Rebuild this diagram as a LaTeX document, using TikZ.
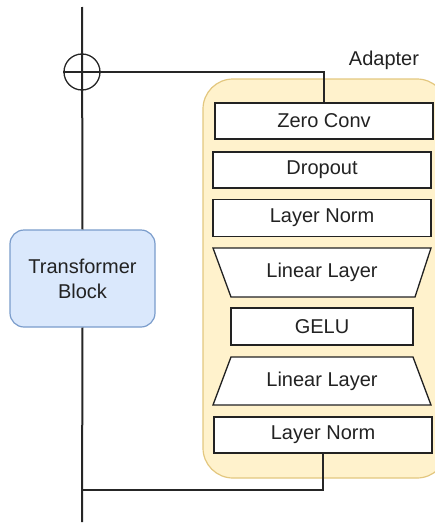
\documentclass[tikz,border=0pt]{standalone}
\usepackage{fontspec}
\setmainfont{Liberation Sans}
\usetikzlibrary{calc}
\definecolor{txt}{HTML}{222222}
\definecolor{adfill}{HTML}{FFF2CC}
\definecolor{addraw}{HTML}{E3C77F}
\definecolor{tbfill}{HTML}{DAE8FC}
\definecolor{tbdraw}{HTML}{7A9CCB}
\tikzset{
  lay/.style={draw=txt, fill=white, line width=1.3pt, minimum width=218pt, minimum height=36pt, inner sep=0pt, font=\fontsize{20}{24}\selectfont, text=txt},
  trap/.style={draw=txt, fill=white, line width=1.3pt},
  lbl/.style={inner sep=0pt, font=\fontsize{20}{24}\selectfont, text=txt},
  wire/.style={draw=black!85, line width=2pt},
}
\begin{document}
\begin{tikzpicture}[x=1pt,y=-1pt]
\useasboundingbox (0,0) rectangle (435,525);
\begin{scope}
\clip (0,0) rectangle (435,525);
% adapter container
\draw[fill=adfill, draw=addraw, line width=1.2pt, rounded corners=30pt] (203,79) rectangle (447,478);
\node[lbl] (adlbl) at (384,60) {Adapter};
% transformer block
\node[draw=tbdraw, fill=tbfill, line width=1.2pt, rounded corners=14pt, minimum width=145pt, minimum height=97pt, align=center, inner sep=0pt, font=\fontsize{20}{25}\selectfont, text=txt] (tb) at (82.5,278.5) {Transformer\\Block};
% layers
\node[lay] (zc) at (324,121) {Zero Conv};
\node[lay] (drop) at (322,170) {Dropout};
\node[lay, minimum height=37pt] (ln1) at (322,218) {Layer Norm};
\draw[trap] (213,248) -- (431,248) -- (415,297) -- (231,297) -- cycle;
\node[lbl] (lin1) at (322,272.5) {Linear Layer};
\node[lay, minimum width=182pt, minimum height=37pt] (gelu) at (322,326.5) {GELU};
\draw[trap] (231,357) -- (413,357) -- (431,405) -- (213,405) -- cycle;
\node[lbl] (lin2) at (322,381) {Linear Layer};
\node[lay] (ln2) at (323,435) {Layer Norm};
% adder
\node[circle, draw=black!85, line width=1.3pt, minimum size=36pt, inner sep=0pt] (plus) at (82,72) {};
\draw[black!85, line width=1.3pt] (plus.west) -- (plus.east);
% wires
\coordinate (top) at (82,7);
\coordinate (bot) at (82,522);
\coordinate (join) at (82,490);
\draw[wire] (top) -- (tb.north);
\draw[wire] (tb.south) -- (bot);
\draw[wire] (plus.east) -| (zc.north);
\draw[wire] (ln2.south) |- (join);
\end{scope}
\end{tikzpicture}
\end{document}
